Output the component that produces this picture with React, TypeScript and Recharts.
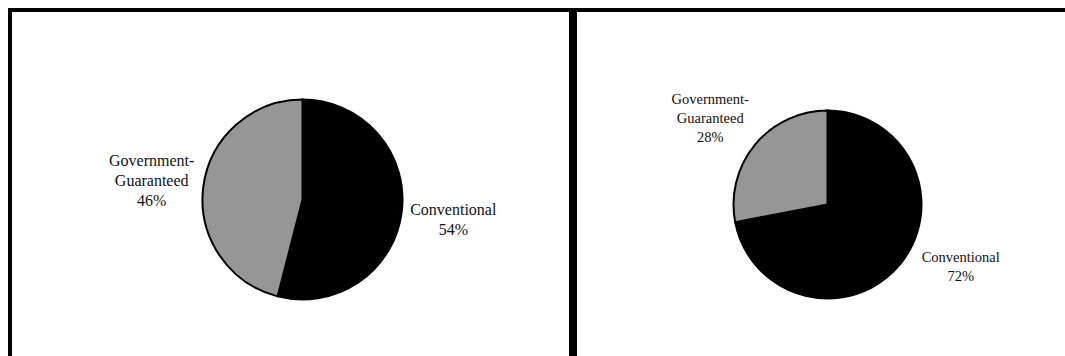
import { PieChart, Pie, Cell } from 'recharts'

const categories = ['Conventional', 'Government-Guaranteed']
const labelLines = [['Conventional'], ['Government-', 'Guaranteed']]
const sharesBefore = [54, 46]
const sharesAfter = [72, 28]
const sliceColors = ['#000000', '#969696']

const RADIAN = Math.PI / 180
const noMargin = { top: 0, right: 0, bottom: 0, left: 0 }

function toRows(values: number[]) {
  return categories.map((name, i) => ({ name, value: values[i], lines: labelLines[i] }))
}

function makeLabel(radius: number, fontSize: number, lineHeight: number, nudge: Record<string, [number, number]>) {
  return (p: any) => {
    const a = -p.midAngle * RADIAN
    const [nx, ny] = nudge[p.payload.name] || [0, 0]
    const x = p.cx + radius * Math.cos(a) + nx
    const y = p.cy + radius * Math.sin(a) + ny
    const lines: string[] = [...p.payload.lines, `${p.value}%`]
    const top = y - ((lines.length - 1) * lineHeight) / 2
    return (
      <text x={x} y={top} textAnchor="middle" dominantBaseline="central" fontFamily="'Liberation Serif', serif" fontSize={fontSize} fill="#111">
        {lines.map((l, i) => (
          <tspan key={i} x={x} dy={i === 0 ? 0 : lineHeight}>{l}</tspan>
        ))}
      </text>
    )
  }
}

const panel: React.CSSProperties = {
  width: 557,
  height: 344,
  borderTop: '4px solid #000',
  borderLeft: '4px solid #000',
  borderRight: '4px solid #000',
  background: '#fff',
  flex: 'none',
}

export default function App() {
  return (
    <div style={{ position: 'absolute', top: 8, left: 8, width: 1057, height: 348, overflow: 'hidden', display: 'flex' }}>
      <div style={panel}>
        <PieChart width={557} height={344} margin={noMargin}>
          <Pie
            data={toRows(sharesBefore)}
            dataKey="value"
            cx={290.5}
            cy={187.5}
            outerRadius={100}
            startAngle={90}
            endAngle={-270}
            stroke="#000"
            strokeWidth={2}
            labelLine={false}
            label={makeLabel(152, 16, 20, {})}
            isAnimationActive={false}
          >
            {sliceColors.map((c, i) => <Cell key={i} fill={c} />)}
          </Pie>
        </PieChart>
      </div>
      <div style={panel}>
        <PieChart width={557} height={344} margin={noMargin}>
          <Pie
            data={toRows(sharesAfter)}
            dataKey="value"
            cx={250.5}
            cy={192.5}
            outerRadius={94}
            startAngle={90}
            endAngle={-270}
            stroke="#000"
            strokeWidth={2}
            labelLine={false}
            label={makeLabel(147, 14.5, 19, { 'Conventional': [20, -32], 'Government-Guaranteed': [-4, 7] })}
            isAnimationActive={false}
          >
            {sliceColors.map((c, i) => <Cell key={i} fill={c} />)}
          </Pie>
        </PieChart>
      </div>
    </div>
  )
}
